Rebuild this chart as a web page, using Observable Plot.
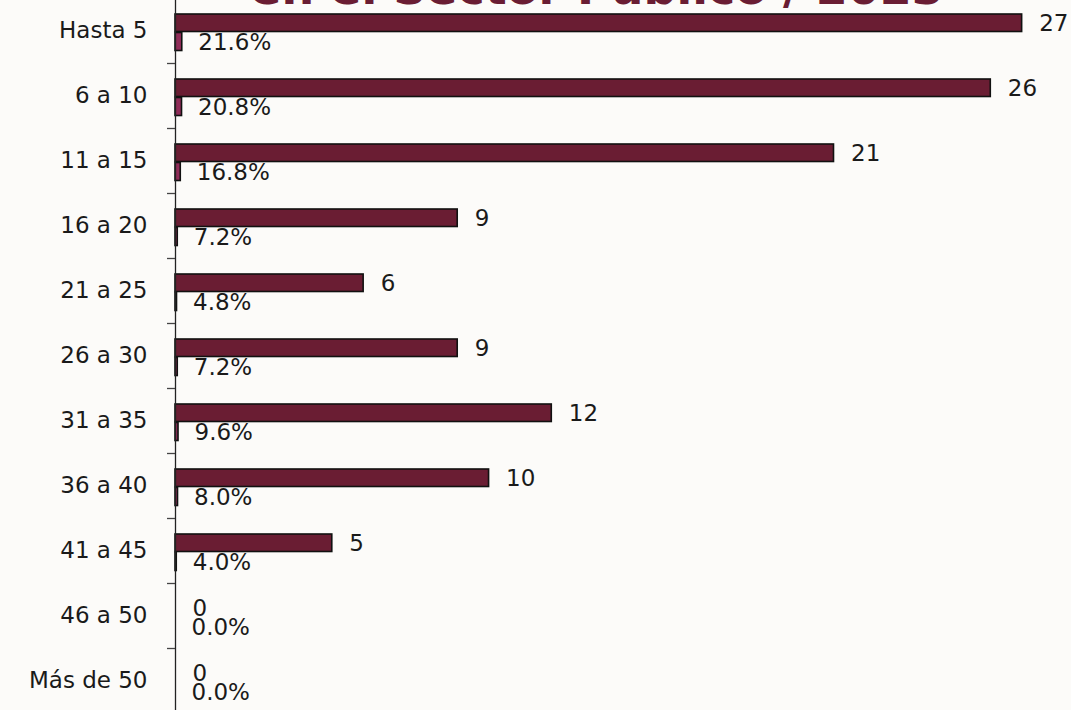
<!DOCTYPE html>
<html>
<head>
<meta charset="utf-8">
<script src="https://cdn.jsdelivr.net/npm/d3@7"></script>
<script src="https://cdn.jsdelivr.net/npm/@observablehq/plot@0.6"></script>
<style>
  html, body { margin: 0; padding: 0; background: #fcfbf9; overflow: hidden; }
  body { width: 1071px; height: 710px; position: relative; font-family: "DejaVu Sans", sans-serif; }
  #title { position: absolute; left: 0; width: 1194px; text-align: center; top: -35px; font-size: 46px; line-height: 46px; font-weight: bold; color: #6a1d33; white-space: nowrap; }
  #chart { position: absolute; left: 0; top: -2.3px; }
</style>
</head>
<body>
<div id="title">en el Sector Público / 2023</div>
<div id="chart"></div>
<script>
const categories = ["Hasta 5", "6 a 10", "11 a 15", "16 a 20", "21 a 25", "26 a 30", "31 a 35", "36 a 40", "41 a 45", "46 a 50", "Más de 50"];
const counts = [27, 26, 21, 9, 6, 9, 12, 10, 5, 0, 0];
const shares = [0.216, 0.208, 0.168, 0.072, 0.048, 0.072, 0.096, 0.080, 0.040, 0.0, 0.0];

const data = categories.map((c, i) => ({cat: c, n: counts[i], p: shares[i]}));

const chart = Plot.plot({
  width: 1071,
  height: 715,
  marginLeft: 175,
  marginRight: 18,
  marginTop: 0,
  marginBottom: 0,
  style: {background: "transparent", fontFamily: "DejaVu Sans, sans-serif", overflow: "visible"},
  x: {domain: [0, 28], axis: null},
  y: {domain: categories, padding: 0, axis: null},
  marks: [
    Plot.barX(data, {y: "cat", x: "n", fill: "#6a1d33", stroke: "#111", strokeWidth: 1.6, insetTop: 16, insetBottom: 31.5}),
    Plot.barX(data, {y: "cat", x: "p", fill: "#902c58", stroke: "#111", strokeWidth: 1.6, insetTop: 34.5, insetBottom: 12.5}),
    Plot.ruleX([0], {stroke: "#222", strokeWidth: 1.3}),
    Plot.ruleY(categories, {y: d => d, x1: 0, x2: 0, insetRight: 8, dy: -32.5, stroke: "#444", strokeWidth: 1.3}),
    Plot.axisY({tickSize: 0, tickPadding: 28, fontSize: 23, fill: "#1a1a1a", label: null}),
    Plot.text(data, {y: "cat", x: "n", text: d => String(d.n), dx: 17, dy: -7.5, textAnchor: "start", fontSize: 23, fill: "#1a1a1a"}),
    Plot.text(data, {y: "cat", x: "p", text: d => (d.p * 100).toFixed(1) + "%", dx: 16, dy: 11.5, textAnchor: "start", fontSize: 23, fill: "#1a1a1a"})
  ]
});
document.getElementById("chart").appendChild(chart);
</script>
</body>
</html>
